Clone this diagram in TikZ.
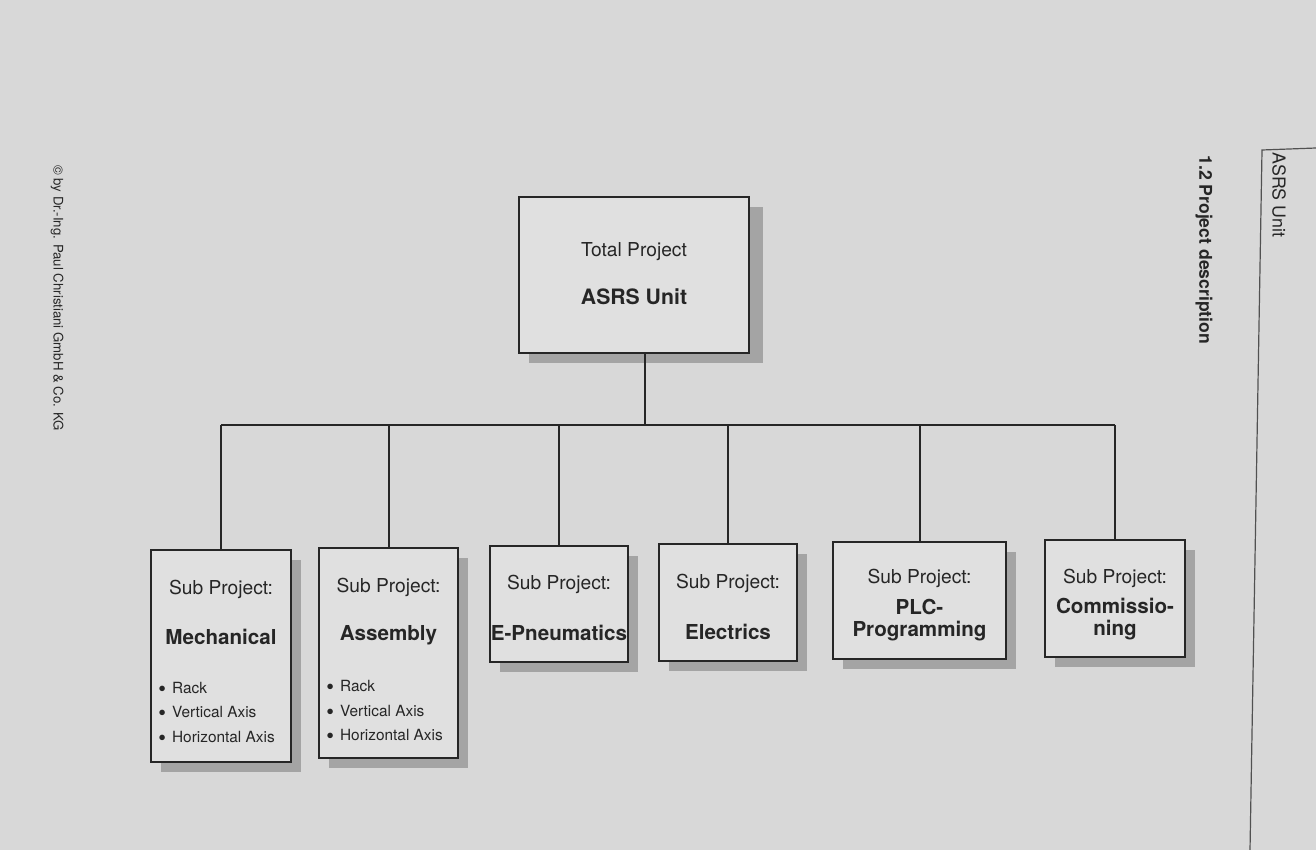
\documentclass[tikz,border=0pt]{standalone}
\usepackage{fontspec}
\setmainfont{TeX Gyre Heros}
\usetikzlibrary{shadows}
\definecolor{pagegray}{HTML}{D8D8D8}
\definecolor{boxfill}{HTML}{E0E0E0}
\definecolor{shadowgray}{HTML}{A4A4A4}
\definecolor{ink}{HTML}{262626}
\newcommand{\bigbul}{{\fontsize{11}{9}\selectfont\raisebox{-1.4pt}{\textbullet}}\hspace{3pt}}
\begin{document}
\begin{tikzpicture}[x=0.5pt,y=-0.5pt,
  box/.style={draw=ink, line width=0.75pt, fill=boxfill, inner sep=0pt,
    drop shadow={shadow xshift=5pt, shadow yshift=-5pt, fill=shadowgray, opacity=1}},
  topbox/.style={box, drop shadow={shadow xshift=7pt, shadow yshift=-5pt, fill=shadowgray, opacity=1}},
  subtxt/.style={text=ink, font=\fontsize{9.6}{11}\selectfont, inner sep=0pt},
  nametxt/.style={text=ink, font=\fontsize{10.3}{12}\selectfont\bfseries, inner sep=0pt},
  itemtxt/.style={text=ink, font=\fontsize{7.7}{9}\selectfont, inner sep=0pt, anchor=west},
  conn/.style={draw=ink, line width=1pt},
  side/.style={text=ink, inner sep=0pt, anchor=west, rotate=-90}]
\useasboundingbox (0,0) rectangle (1316,850);
\fill[pagegray] (0,0) rectangle (1316,850);

% top box
\node[topbox, minimum width=115pt, minimum height=78pt] (top) at (634,275) {};
\node[subtxt] (toplbl) at (634,252) {Total Project};
\node[nametxt, font=\fontsize{10.6}{12}\selectfont\bfseries] (topname) at (634,297) {ASRS Unit};

% sub boxes
\node[box, minimum width=70pt, minimum height=106pt] (mech) at (221,656) {};
\node[box, minimum width=69.5pt, minimum height=105pt] (asm) at (388.5,653) {};
\node[box, minimum width=69pt, minimum height=58pt] (pneu) at (559,604) {};
\node[box, minimum width=69pt, minimum height=58.5pt] (elec) at (728,602.5) {};
\node[box, minimum width=86.5pt, minimum height=58.5pt] (plc) at (919.5,600.5) {};
\node[box, minimum width=70pt, minimum height=58.5pt] (comm) at (1115,598.5) {};

% connectors
\coordinate (stemx) at (645,0);
\coordinate (bus) at (0,425);
\coordinate (busL) at (mech.north |- bus);
\coordinate (busR) at (comm.north |- bus);
\draw[conn] (top.south -| stemx) -- (bus -| stemx);
\draw[conn] (busL) -- (busR);
\foreach \b in {mech,asm,pneu,elec,plc,comm}
  \draw[conn] (\b.north |- bus) -- (\b.north);

% texts in sub boxes
\node[subtxt] (mechs) at (221,589) {Sub Project:};
\node[nametxt] (mechn) at (221,637) {Mechanical};
\node[itemtxt] (mech1) at (158,689) {\bigbul Rack};
\node[itemtxt] (mech2) at (158,713) {\bigbul Vertical Axis};
\node[itemtxt] (mech3) at (158,738) {\bigbul Horizontal Axis};

\node[subtxt] (asms) at (388.5,587) {Sub Project:};
\node[nametxt] (asmn) at (388.5,635) {Assembly};
\node[itemtxt] (asm1) at (326,687) {\bigbul Rack};
\node[itemtxt] (asm2) at (326,712) {\bigbul Vertical Axis};
\node[itemtxt] (asm3) at (326,736) {\bigbul Horizontal Axis};

\node[subtxt] (pneus) at (559,584) {Sub Project:};
\node[nametxt] (pneun) at (559,633) {E-Pneumatics};

\node[subtxt] (elecs) at (728,583) {Sub Project:};
\node[nametxt] (elecn) at (728,632) {Electrics};

\node[subtxt] (plcs) at (919.5,578) {Sub Project:};
\node[nametxt] (plcn1) at (919.5,607) {PLC-};
\node[nametxt] (plcn2) at (919.5,631) {Programming};

\node[subtxt] (comms) at (1115,578) {Sub Project:};
\node[nametxt] (commn1) at (1115,606) {Commissio-};
\node[nametxt] (commn2) at (1115,630) {ning};

% page furniture
\draw[draw=ink!80, line width=0.6pt] (1316,148) -- (1262,150) -- (1250,850);
\node[side, font=\fontsize{8.9}{10}\selectfont] (unitlbl) at (1279,152) {ASRS Unit};
\node[side, font=\fontsize{8.8}{10}\selectfont\bfseries] (seclbl) at (1204,155) {1.2 Project description};
\node[side, font=\fontsize{6.6}{8}\selectfont] (copy) at (57,165) {© by Dr.-Ing. Paul Christiani GmbH \& Co. KG};
\end{tikzpicture}
\end{document}
